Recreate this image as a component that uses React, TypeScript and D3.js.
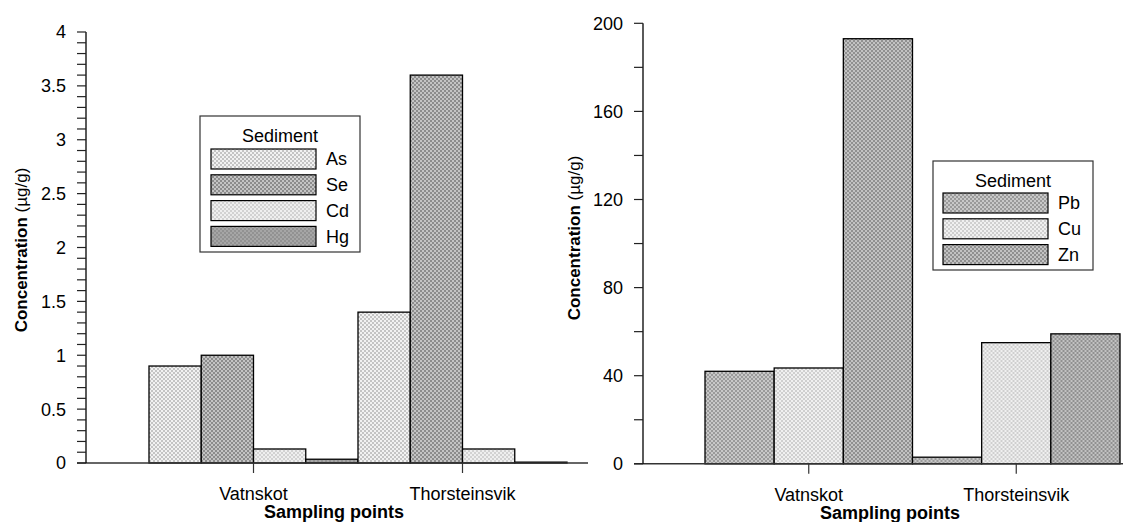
import React from "react";
import * as d3 from "d3";

// Sampling points shared by both panels
const sites = ["Vatnskot", "Thorsteinsvik"];

// Trace elements (µg/g)
const traceElements = ["As", "Se", "Cd", "Hg"];
const asValues = [0.9, 1.4];
const seValues = [1.0, 3.6];
const cdValues = [0.13, 0.13];
const hgValues = [0.035, 0.008];

// Heavy metals (µg/g)
const metals = ["Pb", "Cu", "Zn"];
const pbValues = [42, 3];
const cuValues = [43.5, 55];
const znValues = [193, 59];

const leftTicks = d3.range(0, 4.01, 0.5);
const rightTicks = [0, 40, 80, 120, 160, 200];

const FONT = "'Liberation Sans', Arial, sans-serif";
const FS = 18;

type PanelProps = {
  series: string[];
  values: number[][];
  fills: string[];
  yMax: number;
  majorTicks: number[];
  minorStep: number;
  axisX: number;
  bandX0: number;
  bandX1: number;
  yTop: number;
  yZero: number;
  lineEnd: number;
  lineStart: number;
  yLabelX: number;
  yLabelY: number;
  xTitleX: number;
  legend: { x: number; y: number; w: number; h: number; sx: number; sw: number; rowY0: number; pitch: number; titleY: number };
  fmt: (v: number) => string;
};

function Panel(p: PanelProps) {
  const y = d3.scaleLinear().domain([0, p.yMax]).range([p.yZero, p.yTop]);
  const x0 = d3.scaleBand<string>().domain(sites).range([p.bandX0, p.bandX1]).padding(0);
  const x1 = d3.scaleBand<string>().domain(p.series).range([0, x0.bandwidth()]).padding(0);
  const minor = d3.range(0, p.yMax + p.minorStep / 2, p.minorStep);

  return (
    <g>
      {/* bars */}
      {sites.map((s, i) => (
        <g key={s} transform={`translate(${x0(s)},0)`}>
          {p.series.map((k, j) => {
            const v = p.values[j][i];
            return (
              <rect
                key={k}
                x={x1(k)}
                y={y(v)}
                width={x1.bandwidth()}
                height={p.yZero - y(v)}
                fill={p.fills[j]}
                stroke="#000"
                strokeWidth={1.3}
              />
            );
          })}
        </g>
      ))}
      {/* x axis line */}
      <line x1={p.lineStart} x2={p.lineEnd} y1={p.yZero} y2={p.yZero} stroke="#333" strokeWidth={1.5} />
      {/* category ticks */}
      {sites.map((s) => {
        const cx = (x0(s) as number) + x0.bandwidth() / 2;
        return (
          <g key={s}>
            <line x1={cx} x2={cx} y1={p.yZero} y2={p.yZero + 10} stroke="#333" strokeWidth={1.2} />
            <text x={cx} y={p.yZero + 37} textAnchor="middle" fontSize={FS} fontFamily={FONT}>
              {s}
            </text>
          </g>
        );
      })}
      <text x={p.xTitleX} y={p.yZero + 55} textAnchor="middle" fontSize={FS} fontWeight="bold" fontFamily={FONT}>
        Sampling points
      </text>
      {/* y axis */}
      <line x1={p.axisX} x2={p.axisX} y1={p.yTop} y2={p.yZero} stroke="#000" strokeWidth={1.3} />
      {minor.map((t) => (
        <line key={"m" + t} x1={p.axisX - 9} x2={p.axisX} y1={y(t)} y2={y(t)} stroke="#222" strokeWidth={1.2} />
      ))}
      {p.majorTicks.map((t) => (
        <text
          key={"t" + t}
          x={p.axisX - 20}
          y={y(t)}
          dy="0.36em"
          textAnchor="end"
          fontSize={FS}
          fontFamily={FONT}
        >
          {p.fmt(t)}
        </text>
      ))}
      <text
        transform={`translate(${p.yLabelX},${p.yLabelY}) rotate(-90)`}
        textAnchor="middle"
        fontSize={17}
        fontFamily={FONT}
      >
        <tspan fontWeight="bold">Concentration</tspan>
        <tspan> (µg/g)</tspan>
      </text>
      {/* legend */}
      <rect x={p.legend.x} y={p.legend.y} width={p.legend.w} height={p.legend.h} fill="#fff" stroke="#333" strokeWidth={1.2} />
      <text x={p.legend.x + p.legend.w / 2} y={p.legend.titleY} textAnchor="middle" fontSize={FS} fontFamily={FONT}>
        Sediment
      </text>
      {p.series.map((k, j) => {
        const ry = p.legend.rowY0 + j * p.legend.pitch;
        return (
          <g key={k}>
            <rect x={p.legend.sx} y={ry} width={p.legend.sw} height={20} fill={p.fills[j]} stroke="#000" strokeWidth={1.2} />
            <text x={p.legend.sx + p.legend.sw + 10} y={ry + 10} dy="0.36em" fontSize={FS} fontFamily={FONT}>
              {k}
            </text>
          </g>
        );
      })}
    </g>
  );
}

function Checker({ id, a, b, size }: { id: string; a: string; b: string; size: number }) {
  return (
    <pattern id={id} width={size * 2} height={size * 2} patternUnits="userSpaceOnUse">
      <rect width={size * 2} height={size * 2} fill={a} />
      <rect width={size} height={size} fill={b} />
      <rect x={size} y={size} width={size} height={size} fill={b} />
    </pattern>
  );
}

export default function App() {
  return (
    <svg width={1131} height={522} style={{ display: "block", margin: "-8px 0 0 -8px", background: "#fff" }}>
      <defs>
        <Checker id="pAs" a="#f2f2f2" b="#c4c4c4" size={2} />
        <Checker id="pSe" a="#c4c4c4" b="#8c8c8c" size={2} />
        <Checker id="pCd" a="#efefef" b="#d2d2d2" size={2} />
        <Checker id="pHg" a="#a6a6a6" b="#929292" size={2} />
        <Checker id="pPb" a="#c8c8c8" b="#9a9a9a" size={2} />
        <Checker id="pCu" a="#f0f0f0" b="#cfcfcf" size={2} />
        <Checker id="pZn" a="#c2c2c2" b="#909090" size={2} />
      </defs>
      <Panel
        series={traceElements}
        values={[asValues, seValues, cdValues, hgValues]}
        fills={["url(#pAs)", "url(#pSe)", "url(#pCd)", "url(#pHg)"]}
        yMax={4}
        majorTicks={leftTicks}
        minorStep={0.1}
        axisX={86}
        bandX0={149}
        bandX1={567}
        yTop={32}
        yZero={463}
        lineStart={77}
        lineEnd={588}
        yLabelX={27}
        yLabelY={250}
        xTitleX={334}
        legend={{ x: 200, y: 116, w: 160, h: 136, sx: 211, sw: 105, rowY0: 149, pitch: 25.8, titleY: 142 }}
        fmt={(v) => d3.format("~g")(v)}
      />
      <Panel
        series={metals}
        values={[pbValues, cuValues, znValues]}
        fills={["url(#pPb)", "url(#pCu)", "url(#pZn)"]}
        yMax={200}
        majorTicks={rightTicks}
        minorStep={20}
        axisX={643}
        bandX0={705}
        bandX1={1120}
        yTop={23.3}
        yZero={463.8}
        lineStart={634}
        lineEnd={1131}
        yLabelX={580}
        yLabelY={238}
        xTitleX={890}
        legend={{ x: 933, y: 161, w: 160, h: 109, sx: 943, sw: 105, rowY0: 193, pitch: 25.8, titleY: 187 }}
        fmt={(v) => String(v)}
      />
    </svg>
  );
}
